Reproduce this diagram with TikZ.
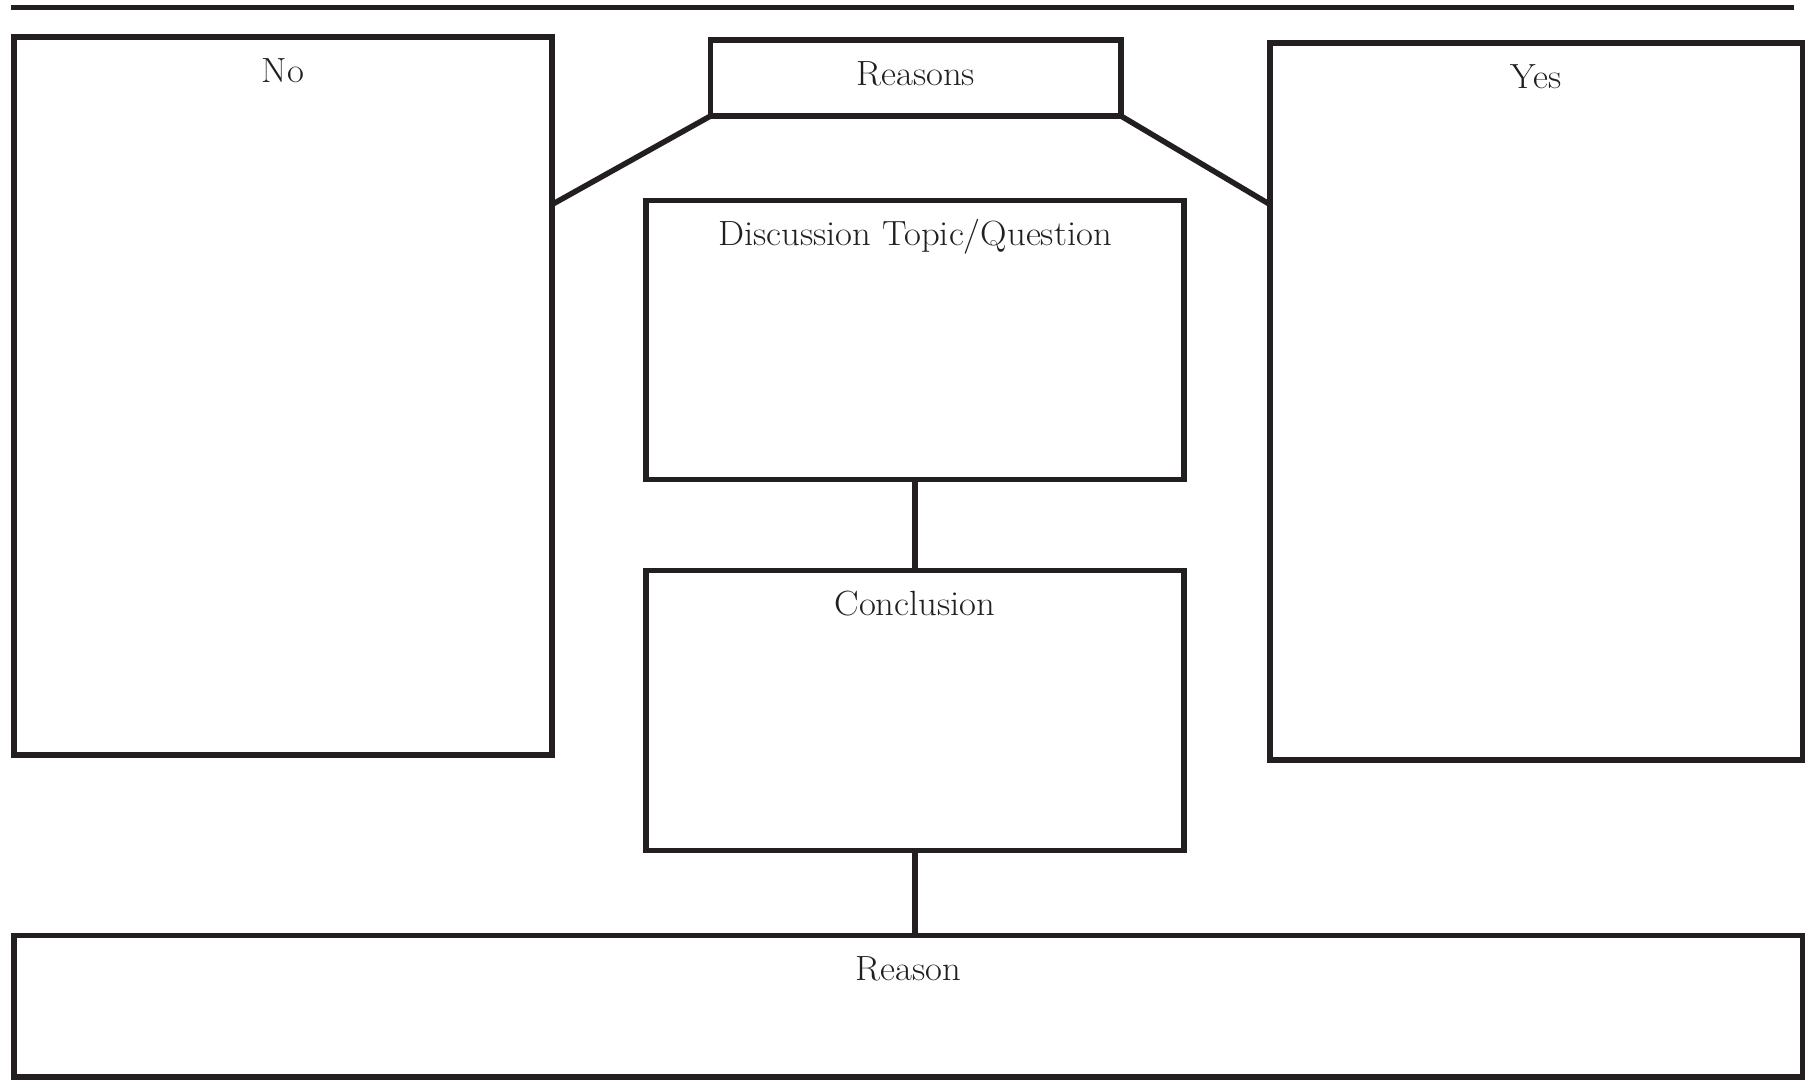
\documentclass[tikz,border=0pt]{standalone}
\usepackage{fontspec}
\usepackage{graphicx}
\definecolor{ink}{HTML}{231F20}
\newcommand{\widelbl}[1]{\scalebox{1.05}[1]{#1}}
\begin{document}
\begin{tikzpicture}[x=1pt,y=-1pt,
  box/.style={draw=ink, line width=5.5pt, rectangle, inner sep=0pt, outer sep=0pt, anchor=north west},
  lab/.style={text=ink, inner sep=0pt, anchor=base, font=\fontsize{35}{40}\selectfont},
  conn/.style={draw=ink, line width=5.5pt}]
\useasboundingbox (0,0) rectangle (1806,1080);
% top rule
\coordinate (tl) at (11,7.5);
\coordinate (tr) at (1794,7.5);
\draw[ink, line width=5pt] (tl) -- (tr);
% boxes
\node[box, minimum width=538pt, minimum height=718pt] (no) at (14,37) {};
\node[box, minimum width=410.5pt, minimum height=76pt] (reasons) at (710.5,40) {};
\node[box, minimum width=532.5pt, minimum height=717pt] (yes) at (1270,43) {};
\node[box, minimum width=538pt, minimum height=279pt] (disc) at (646,200.5) {};
\node[box, minimum width=538pt, minimum height=280pt] (concl) at (646,570.5) {};
\node[box, minimum width=1788.5pt, minimum height=141.5pt] (reason) at (14,935.5) {};
% labels
\node[lab] (lno) at ([yshift=-45pt]no.north) {\widelbl{No}};
\node[lab] (lreasons) at ([yshift=-45pt]reasons.north) {\widelbl{Reasons}};
\node[lab] (lyes) at ([yshift=-45pt]yes.north) {\widelbl{Yes}};
\node[lab] (ldisc) at ([yshift=-45pt]disc.north) {\widelbl{Discussion Topic/Question}};
\node[lab] (lconcl) at ([yshift=-45pt]concl.north) {\widelbl{Conclusion}};
\node[lab] (lreason) at ([yshift=-45pt]reason.north) {\widelbl{Reason}};
% connectors
\draw[conn] ([yshift=-167.5pt]no.north east) -- (reasons.south west);
\draw[conn] (reasons.south east) -- ([yshift=-161.5pt]yes.north west);
\draw[conn] (disc.south) -- (concl.north);
\draw[conn] (concl.south) -- (concl.south |- reason.north);
\end{tikzpicture}
\end{document}
